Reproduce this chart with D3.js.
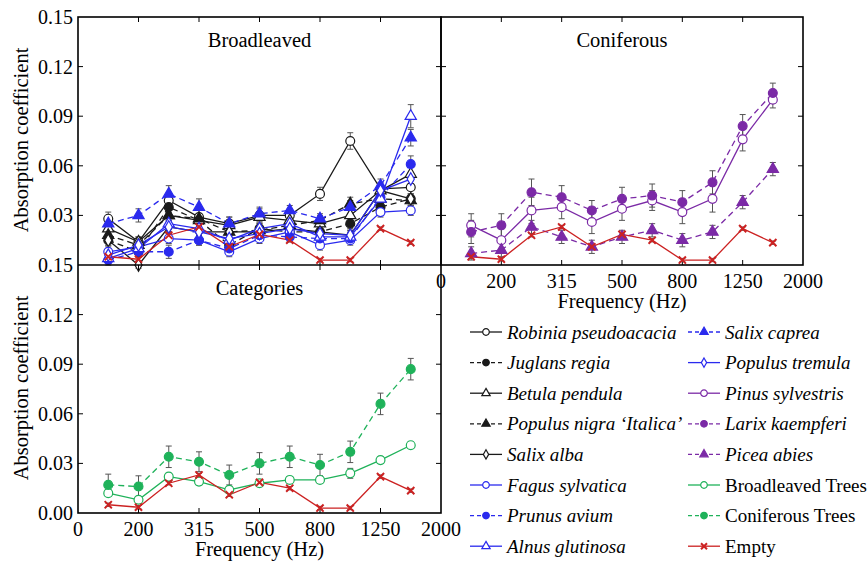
<!DOCTYPE html>
<html>
<head>
<meta charset="utf-8">
<script src="https://cdn.jsdelivr.net/npm/d3@7"></script>
<style>
  body { margin: 0; background: #fff; }
  text { font-family: "Liberation Serif", "Times New Roman", Times, "Nimbus Roman", "Nimbus Roman No9 L", "FreeSerif", "Noto Serif", "DejaVu Serif", Tinos, serif; }
</style>
</head>
<body>
<svg id="chart" width="867" height="564"></svg>
<script>
// frequency bands (1/3 octave), plus the empty slots at both ends of the axis
const bands = ["0", "160", "200", "250", "315", "400", "500", "630", "800", "1000", "1250", "1600", "2000"];
const freqs = ["160", "200", "250", "315", "400", "500", "630", "800", "1000", "1250", "1600"];
const xTickLabels = ["0", "200", "315", "500", "800", "1250", "2000"];

// broadleaved species
const robinia      = [0.028, 0.014, 0.039, 0.029, 0.025, 0.030, 0.030, 0.043, 0.075, 0.046, 0.047];
const robiniaErr   = [0.004, 0.003, 0.004, 0.004, 0.004, 0.004, 0.004, 0.004, 0.005, 0.004, 0.004];
const juglans      = [0.015, 0.008, 0.035, 0.027, 0.012, 0.022, 0.020, 0.020, 0.025, 0.035, 0.040];
const juglansErr   = [0.003, 0.003, 0.003, 0.003, 0.003, 0.003, 0.003, 0.003, 0.003, 0.003, 0.003];
const betula       = [0.022, 0.014, 0.030, 0.027, 0.024, 0.029, 0.027, 0.025, 0.030, 0.045, 0.055];
const betulaErr    = [0.003, 0.003, 0.003, 0.003, 0.003, 0.003, 0.003, 0.003, 0.003, 0.003, 0.004];
const populusN     = [0.018, 0.012, 0.030, 0.028, 0.020, 0.021, 0.024, 0.027, 0.037, 0.040, 0.039];
const populusNErr  = [0.003, 0.003, 0.003, 0.003, 0.003, 0.003, 0.003, 0.003, 0.004, 0.003, 0.003];
const salixAlba    = [0.015, 0.000, 0.023, 0.020, 0.020, 0.020, 0.022, 0.020, 0.018, 0.045, 0.040];
const salixAlbaErr = [0.003, 0.002, 0.003, 0.003, 0.003, 0.003, 0.003, 0.003, 0.003, 0.003, 0.003];
const fagus        = [0.008, 0.011, 0.016, 0.015, 0.008, 0.016, 0.020, 0.012, 0.015, 0.032, 0.033];
const fagusErr     = [0.003, 0.003, 0.003, 0.003, 0.003, 0.003, 0.003, 0.003, 0.003, 0.003, 0.003];
const prunus       = [0.003, 0.008, 0.008, 0.015, 0.010, 0.018, 0.017, 0.016, 0.016, 0.041, 0.061];
const prunusErr    = [0.003, 0.003, 0.004, 0.003, 0.003, 0.003, 0.003, 0.003, 0.003, 0.003, 0.005];
const alnus        = [0.004, 0.010, 0.025, 0.022, 0.015, 0.022, 0.025, 0.017, 0.017, 0.040, 0.090];
const alnusErr     = [0.003, 0.003, 0.003, 0.003, 0.003, 0.003, 0.003, 0.003, 0.003, 0.003, 0.007];
const salixCaprea  = [0.025, 0.030, 0.043, 0.035, 0.025, 0.031, 0.033, 0.028, 0.035, 0.048, 0.077];
const salixCapErr  = [0.004, 0.004, 0.005, 0.005, 0.004, 0.004, 0.003, 0.003, 0.004, 0.004, 0.005];
const populusT     = [0.006, 0.012, 0.023, 0.020, 0.016, 0.019, 0.022, 0.019, 0.018, 0.045, 0.052];
const populusTErr  = [0.003, 0.003, 0.003, 0.003, 0.003, 0.003, 0.003, 0.003, 0.003, 0.003, 0.003];

// coniferous species
const pinus        = [0.024, 0.015, 0.033, 0.035, 0.026, 0.034, 0.039, 0.032, 0.040, 0.076, 0.100];
const pinusErr     = [0.007, 0.007, 0.008, 0.007, 0.007, 0.007, 0.006, 0.007, 0.008, 0.007, 0.005];
const larix        = [0.020, 0.024, 0.044, 0.041, 0.033, 0.040, 0.042, 0.038, 0.050, 0.084, 0.104];
const larixErr     = [0.007, 0.007, 0.008, 0.007, 0.006, 0.007, 0.007, 0.007, 0.007, 0.007, 0.006];
const picea        = [0.007, 0.009, 0.023, 0.017, 0.011, 0.017, 0.021, 0.015, 0.020, 0.038, 0.058];
const piceaErr     = [0.004, 0.004, 0.004, 0.004, 0.004, 0.004, 0.004, 0.004, 0.004, 0.004, 0.004];

// categories
const broadTrees   = [0.012, 0.008, 0.022, 0.019, 0.014, 0.018, 0.020, 0.020, 0.024, 0.032, 0.041];
const broadErr     = [0.002, 0.002, 0.002, 0.002, 0.002, 0.002, 0.002, 0.002, 0.003, 0.002, 0.002];
const conifTrees   = [0.017, 0.016, 0.034, 0.031, 0.023, 0.030, 0.034, 0.029, 0.037, 0.066, 0.087];
const conifErr     = [0.0065, 0.0065, 0.0065, 0.006, 0.006, 0.0065, 0.0065, 0.0065, 0.0065, 0.0065, 0.0065];
const empty        = [0.005, 0.0035, 0.018, 0.023, 0.011, 0.0185, 0.015, 0.003, 0.003, 0.022, 0.0135];
const emptyErr     = [0.001, 0.001, 0.001, 0.001, 0.001, 0.001, 0.001, 0.001, 0.001, 0.001, 0.001];

const BLACK = "#1a1a1a", BLUE = "#2a2aee", PURPLE = "#7b2aa6", GREEN = "#1fb25a", RED = "#cc2222";

let mk = (name, vals, errs, color, dashed, shape, filled, italic) =>
  ({name: name, vals: vals, errs: errs, color: color, dashed: dashed, shape: shape, filled: filled, italic: italic});

const sEmpty = mk("Empty", empty, emptyErr, RED, false, "x", true, false);
const broadSeries = [
  mk("Robinia pseudoacacia", robinia, robiniaErr, BLACK, false, "circle", false, true),
  mk("Juglans regia", juglans, juglansErr, BLACK, true, "circle", true, true),
  mk("Betula pendula", betula, betulaErr, BLACK, false, "triangle", false, true),
  mk("Populus nigra \u2018Italica\u2019", populusN, populusNErr, BLACK, true, "triangle", true, true),
  mk("Salix alba", salixAlba, salixAlbaErr, BLACK, false, "diamond", false, true),
  mk("Fagus sylvatica", fagus, fagusErr, BLUE, false, "circle", false, true),
  mk("Prunus avium", prunus, prunusErr, BLUE, true, "circle", true, true),
  mk("Alnus glutinosa", alnus, alnusErr, BLUE, false, "triangle", false, true),
  mk("Salix caprea", salixCaprea, salixCapErr, BLUE, true, "triangle", true, true),
  mk("Populus tremula", populusT, populusTErr, BLUE, false, "diamond", false, true)
];
const conSeries = [
  mk("Pinus sylvestris", pinus, pinusErr, PURPLE, false, "circle", false, true),
  mk("Larix kaempferi", larix, larixErr, PURPLE, true, "circle", true, true),
  mk("Picea abies", picea, piceaErr, PURPLE, true, "triangle", true, true)
];
const catSeries = [
  mk("Broadleaved Trees", broadTrees, broadErr, GREEN, false, "circle", false, false),
  mk("Coniferous Trees", conifTrees, conifErr, GREEN, true, "circle", true, false)
];

let svg = d3.select("#chart");
let xLeft = 78, xMid = 441, xRight = 803;
let yTop = 17, yMid = 265, yBottom = 513;
let tickLen = 5;

let symbolPath = function(shape, big){
  let k = big ? 1 : 0.55;
  if(shape === "circle") return d3.symbol().type(d3.symbolCircle).size(62 * k)();
  if(shape === "triangle") return d3.symbol().type(d3.symbolTriangle).size(55 * k)();
  if(shape === "diamond") return d3.symbol().type(d3.symbolDiamond).size(45 * k)();
  let s = big ? 3.6 : 3;
  return "M" + (-s) + "," + (-s) + "L" + s + "," + s + "M" + (-s) + "," + s + "L" + s + "," + (-s);
};

let drawMarker = function(g, s, x, y, big){
  if(s.shape === "x"){
    g.append("path").attr("d", symbolPath("x", big)).attr("transform", "translate(" + x + "," + y + ")")
      .attr("stroke", s.color).attr("stroke-width", 2).attr("fill", "none");
    return;
  }
  g.append("path").attr("d", symbolPath(s.shape, big)).attr("transform", "translate(" + x + "," + y + ")")
    .attr("fill", s.filled ? s.color : "#fff").attr("stroke", s.color).attr("stroke-width", 1.2);
};

let panel = function(x0, x1, y0, y1, series, title, opts){
  let x = d3.scalePoint().domain(bands).range([x0, x1]);
  let y = d3.scaleLinear().domain([0, 0.15]).range([y1, y0]);
  let g = svg.append("g");

  // inward ticks on all sides
  let xt = xTickLabels.slice(1, -1);
  xt.forEach(t => {
    g.append("line").attr("x1", x(t)).attr("x2", x(t)).attr("y1", y1).attr("y2", y1 - tickLen).attr("stroke", "#000");
    g.append("line").attr("x1", x(t)).attr("x2", x(t)).attr("y1", y0).attr("y2", y0 + tickLen).attr("stroke", "#000");
  });
  [0.03, 0.06, 0.09, 0.12].forEach(v => {
    g.append("line").attr("x1", x0).attr("x2", x0 + tickLen).attr("y1", y(v)).attr("y2", y(v)).attr("stroke", "#000");
    g.append("line").attr("x1", x1).attr("x2", x1 - tickLen).attr("y1", y(v)).attr("y2", y(v)).attr("stroke", "#000");
  });

  if(opts.yLabels){
    g.selectAll(".ylab").data(opts.yLabels).enter().append("text")
      .attr("x", x0 - 5).attr("y", d => y(d) + 7).attr("text-anchor", "end")
      .attr("font-size", 20).text(d => d3.format(".2f")(d));
  }
  if(opts.xLabels){
    g.selectAll(".xlab").data(xTickLabels).enter().append("text")
      .attr("x", d => x(d)).attr("y", y1 + 22.5).attr("text-anchor", "middle")
      .attr("font-size", 20).text(d => d);
    g.append("text").attr("x", (x0 + x1) / 2).attr("y", y1 + 43).attr("text-anchor", "middle")
      .attr("font-size", 20.5).text("Frequency (Hz)");
  }
  if(opts.yTitle){
    g.append("text").attr("transform", "translate(28," + opts.yTitle + ") rotate(-90)")
      .attr("text-anchor", "middle").attr("font-size", 20.5).text("Absorption coefficient");
  }
  g.append("text").attr("x", (x0 + x1) / 2).attr("y", y0 + 30).attr("text-anchor", "middle")
    .attr("font-size", 20.5).text(title);

  let line = d3.line().x((d, i) => x(freqs[i])).y(d => y(d));
  let all = series.concat([sEmpty]);

  // error bars first
  all.forEach(s => {
    s.vals.forEach((v, i) => {
      let e = s.errs[i];
      let cx = x(freqs[i]);
      let eb = g.append("g").attr("stroke", "#555").attr("stroke-width", 1);
      eb.append("line").attr("x1", cx).attr("x2", cx).attr("y1", y(v - e)).attr("y2", y(v + e));
      eb.append("line").attr("x1", cx - 3).attr("x2", cx + 3).attr("y1", y(v - e)).attr("y2", y(v - e));
      eb.append("line").attr("x1", cx - 3).attr("x2", cx + 3).attr("y1", y(v + e)).attr("y2", y(v + e));
    });
  });
  all.forEach(s => {
    g.append("path").datum(s.vals).attr("d", line).attr("fill", "none")
      .attr("stroke", s.color).attr("stroke-width", 1.3)
      .attr("stroke-dasharray", s.dashed ? "6,4" : null);
  });
  all.forEach(s => {
    s.vals.forEach((v, i) => drawMarker(g, s, x(freqs[i]), y(v), true));
  });
};

panel(xLeft, xMid, yTop, yMid, broadSeries, "Broadleaved", {yLabels: [0.03, 0.06, 0.09, 0.12, 0.15], yTitle: 140});
panel(xMid, xRight, yTop, yMid, conSeries, "Coniferous", {xLabels: true});
panel(xLeft, xMid, yMid, yBottom, catSeries, "Categories", {yLabels: [0, 0.03, 0.06, 0.09, 0.12, 0.15], xLabels: true, yTitle: 388});

// frames
let frame = svg.append("g").attr("fill", "none").attr("stroke", "#000").attr("stroke-width", 1.6);
frame.append("rect").attr("x", xLeft).attr("y", yTop).attr("width", xMid - xLeft).attr("height", yBottom - yTop);
frame.append("rect").attr("x", xMid).attr("y", yTop).attr("width", xRight - xMid).attr("height", yMid - yTop);
frame.append("line").attr("x1", xLeft).attr("x2", xMid).attr("y1", yMid).attr("y2", yMid);

// legend
let legendCols = [
  broadSeries.slice(0, 8),
  broadSeries.slice(8).concat(conSeries, catSeries, [sEmpty])
];
let legX = [470, 688];
legendCols.forEach((col, c) => {
  col.forEach((s, r) => {
    let yy = 332 + r * 30.6;
    let lg = svg.append("g");
    lg.append("line").attr("x1", legX[c]).attr("x2", legX[c] + 32).attr("y1", yy).attr("y2", yy)
      .attr("stroke", s.color).attr("stroke-width", 1.3).attr("stroke-dasharray", s.dashed ? "4,3" : null);
    drawMarker(lg, s, legX[c] + 16, yy, false);
    lg.append("text").attr("x", legX[c] + 37).attr("y", yy + 6.5).attr("font-size", 19)
      .attr("font-style", s.italic ? "italic" : "normal").text(s.name);
  });
});
</script>
</body>
</html>
